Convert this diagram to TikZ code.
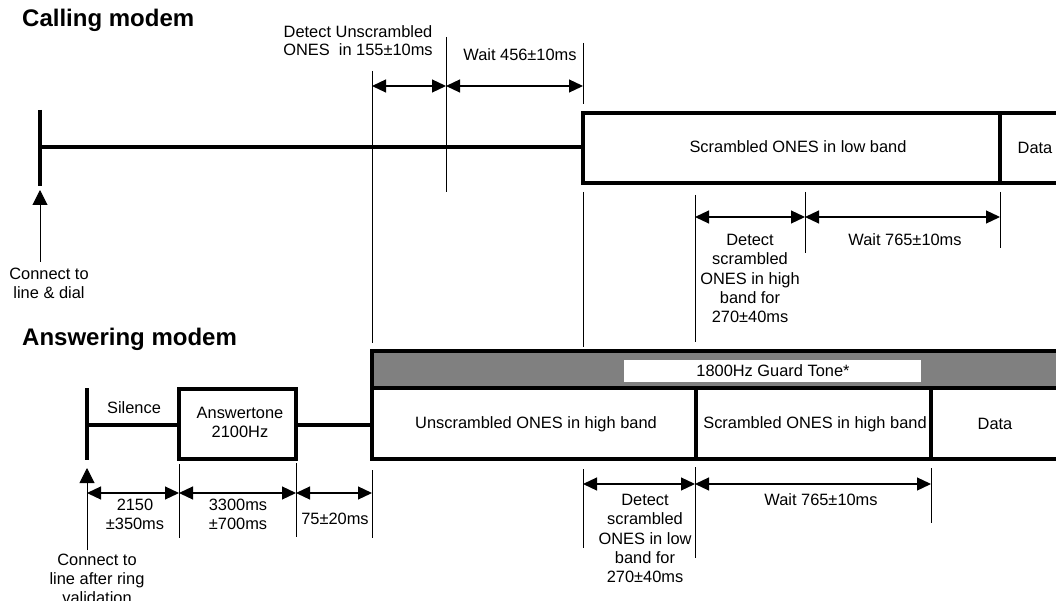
\documentclass[tikz,border=0pt]{standalone}
\usepackage{fontspec}
\setmainfont{Liberation Sans}
\usetikzlibrary{arrows.meta}
\definecolor{bandgray}{RGB}{128,128,128}
\begin{document}
\begin{tikzpicture}[x=1pt,y=-1pt,
  thickline/.style={line width=3.7pt},
  thinline/.style={line width=1pt},
  dimarrow/.style={line width=1.2pt,{Triangle[length=14pt,width=13pt]}-{Triangle[length=14pt,width=13pt]}},
  uparrow/.style={line width=1pt,-{Triangle[length=15pt,width=15pt]}},
  lbl/.style={font=\fontsize{16.4}{19}\selectfont, inner sep=0pt, align=center},
  ttl/.style={font=\fontsize{24}{28}\selectfont\bfseries, inner sep=0pt, anchor=base west},
]
\useasboundingbox (0,0) rectangle (1056,601);
\clip (0,0) rectangle (1056,601);

% ---------- titles ----------
\node[ttl] (tcall) at (22,27) {Calling modem};
\node[ttl] (tans) at (22,345) {Answering modem};

% ---------- calling modem ----------
\coordinate (ctickT) at (40,110);
\coordinate (ctickB) at (40,186);
\coordinate (cstart) at (40,147);
\coordinate (cbox) at (583,147);
\draw[thickline] (ctickT) -- (ctickB);
\draw[thickline] (cstart) -- (cbox);
\draw[thickline] (583,113) rectangle (1000,183);
\draw[thickline] (1000,113) -- (1070,113);
\draw[thickline] (1000,183) -- (1070,183);

\node[lbl] (cscr) at (798,147) {Scrambled ONES in low band};
\node[lbl] (cdata) at (1035,148) {Data};

% up arrow calling
\coordinate (caS) at (40,262);
\coordinate (caT) at (40,190);
\draw[uparrow] (caS) -- (caT);
\node[lbl] (cconn) at (49,283.5) {Connect to\\line \& dial};

% thin guide lines (calling)
\coordinate (g372a) at (372,71);   \coordinate (g372b) at (372,343);
\coordinate (g446a) at (446,37);   \coordinate (g446b) at (446,192);
\coordinate (g583a) at (583,43);   \coordinate (g583b) at (583,104);
\coordinate (g583c) at (583,192);  \coordinate (g583d) at (583,347);
\coordinate (g695a) at (695,195);  \coordinate (g695b) at (695,342);
\coordinate (g805a) at (805,192);  \coordinate (g805b) at (805,253);
\coordinate (g1000a) at (1000,192); \coordinate (g1000b) at (1000,248);
\draw[thinline] (g372a) -- (g372b);
\draw[thinline] (g446a) -- (g446b);
\draw[thinline] (g583a) -- (g583b);
\draw[thinline] (g583c) -- (g583d);
\draw[thinline] (g695a) -- (g695b);
\draw[thinline] (g805a) -- (g805b);
\draw[thinline] (g1000a) -- (g1000b);

% dimension arrows (calling)
\coordinate (d1a) at (372,86);  \coordinate (d1b) at (446,86); \coordinate (d1c) at (583,86);
\draw[dimarrow] (d1a) -- (d1b);
\draw[dimarrow] (d1b) -- (d1c);
\coordinate (d2a) at (695,217); \coordinate (d2b) at (805,217); \coordinate (d2c) at (1000,217);
\draw[dimarrow] (d2a) -- (d2b);
\draw[dimarrow] (d2b) -- (d2c);

\node[lbl, font=\fontsize{16.4}{18}\selectfont] (cdet) at (358,41) {Detect Unscrambled\\ONES\ \ in 155±10ms};
\node[lbl] (cwait) at (520,55) {Wait 456±10ms};
\node[lbl, font=\fontsize{16.4}{19.25}\selectfont] (cdet2) at (750,278.5) {Detect\\scrambled\\ONES in high\\band for\\270±40ms};
\node[lbl] (cwait2) at (905,240) {Wait 765±10ms};

% ---------- answering modem ----------
\coordinate (atickT) at (87,388);
\coordinate (atickB) at (87,460);
\coordinate (astart) at (87,425);
\coordinate (atoneL) at (179,425);
\coordinate (atoneR) at (296,425);
\coordinate (abigL) at (372,425);
\draw[thickline] (atickT) -- (atickB);
\draw[thickline] (astart) -- (atoneL);
\draw[thickline] (atoneR) -- (abigL);
\draw[thickline] (179,389) rectangle (296,459);
\node[lbl] (asil) at (134,408) {Silence};
\node[lbl] (atone) at (240,422) {Answertone\\2100Hz};

% big box
\fill[bandgray] (372,351) rectangle (1070,388);
\draw[thickline] (1070,351) -- (372,351) -- (372,459) -- (1070,459);
\draw[thickline] (372,388) -- (1070,388);
\draw[thickline] (696,388) -- (696,459);
\draw[thickline] (931,388) -- (931,459);
\fill[white] (624,360) rectangle (921,382);
\node[lbl] (aguard) at (773,371) {1800Hz Guard Tone*};
\node[lbl] (aunscr) at (536,424) {Unscrambled ONES in high band};
\node[lbl] (ascr) at (815,424) {Scrambled ONES in high band};
\node[lbl] (adata) at (995,424) {Data};

% up arrow answering
\coordinate (aaS) at (87,550);
\coordinate (aaT) at (87,468);
\draw[uparrow] (aaS) -- (aaT);
\node[lbl] (aconn) at (97,579) {Connect to\\line after ring\\validation};

% thin guide lines (answering)
\coordinate (h179a) at (179,464); \coordinate (h179b) at (179,538);
\coordinate (h296a) at (296,463); \coordinate (h296b) at (296,537);
\coordinate (h372a) at (372,470); \coordinate (h372b) at (372,538);
\coordinate (h583a) at (583,469); \coordinate (h583b) at (583,548);
\coordinate (h695a) at (695,467); \coordinate (h695b) at (695,558);
\coordinate (h931a) at (931,468); \coordinate (h931b) at (931,523);
\draw[thinline] (h179a) -- (h179b);
\draw[thinline] (h296a) -- (h296b);
\draw[thinline] (h372a) -- (h372b);
\draw[thinline] (h583a) -- (h583b);
\draw[thinline] (h695a) -- (h695b);
\draw[thinline] (h931a) -- (h931b);

% dimension arrows (answering)
\coordinate (e1a) at (87,493); \coordinate (e1b) at (179,493);
\coordinate (e1c) at (296,493); \coordinate (e1d) at (372,493);
\draw[dimarrow] (e1a) -- (e1b);
\draw[dimarrow] (e1b) -- (e1c);
\draw[dimarrow] (e1c) -- (e1d);
\coordinate (e2a) at (583,484); \coordinate (e2b) at (695,484); \coordinate (e2c) at (931,484);
\draw[dimarrow] (e2a) -- (e2b);
\draw[dimarrow] (e2b) -- (e2c);

\node[lbl] (a2150) at (135,514.5) {2150\\±350ms};
\node[lbl] (a3300) at (238,514.5) {3300ms\\±700ms};
\node[lbl] (a75) at (335,519) {75±20ms};
\node[lbl, font=\fontsize{16.4}{19.25}\selectfont] (adet) at (645,538.5) {Detect\\scrambled\\ONES in low\\band for\\270±40ms};
\node[lbl] (await) at (821,500) {Wait 765±10ms};
\end{tikzpicture}
\end{document}
